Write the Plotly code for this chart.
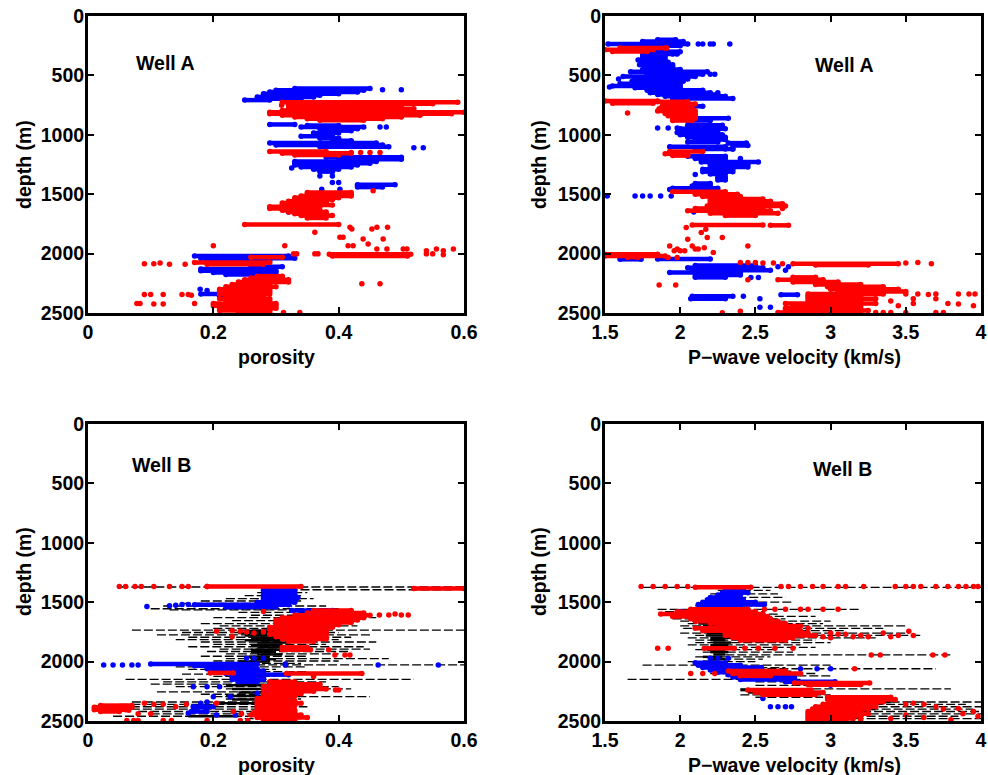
import plotly.graph_objects as go

BLUE = "#0000FF"
RED = "#FF0000"
BLACK = "#000000"

# ---------------- Well A : porosity ----------------
A_phi_blue_d = [610, 625, 640, 655, 668, 682, 696, 708, 913, 922, 935, 950, 965, 985, 1012, 1030, 1050,
                1070, 1085, 1100, 1190, 1205, 1225, 1240, 1255, 1270, 1290, 1310, 1420, 1440,
                2020, 2040, 2055, 2110, 2130, 2145, 2160, 2175, 2340, 2360]
A_phi_blue_lo = [0.33, 0.30, 0.29, 0.28, 0.28, 0.27, 0.28, 0.25, 0.29, 0.35, 0.34, 0.37, 0.38, 0.36, 0.34, 0.37, 0.39,
                 0.29, 0.30, 0.37, 0.38, 0.40, 0.33, 0.33, 0.33, 0.34, 0.36, 0.37, 0.43, 0.43,
                 0.17, 0.18, 0.19, 0.26, 0.18, 0.18, 0.20, 0.22, 0.18, 0.21]
A_phi_blue_hi = [0.45, 0.44, 0.43, 0.40, 0.37, 0.36, 0.34, 0.29, 0.33, 0.40, 0.44, 0.43, 0.42, 0.40, 0.39, 0.40, 0.42,
                 0.46, 0.47, 0.48, 0.50, 0.50, 0.46, 0.45, 0.43, 0.42, 0.40, 0.39, 0.49, 0.47,
                 0.32, 0.33, 0.29, 0.31, 0.29, 0.30, 0.30, 0.29, 0.22, 0.23]
A_phi_blue_dot_d = [620, 620, 935, 935, 1109, 1109, 1280, 1346, 1346, 1402, 1402, 1458, 1458, 1650, 1660, 2300, 2393, 2310]
A_phi_blue_dot_v = [0.47, 0.50, 0.466, 0.476, 0.52, 0.535, 0.325, 0.37, 0.39, 0.39, 0.40, 0.373, 0.402, 0.32, 0.33, 0.179, 0.221, 0.19]

A_phi_red_d = [725, 738, 752, 766, 780, 795, 810, 822, 835, 850, 865, 878, 1140, 1155, 1170,
               1485, 1500, 1515, 1530, 1545, 1560, 1575, 1590, 1605, 1620, 1635, 1650, 1665, 1680, 1700, 1755,
               2005, 2020, 2030, 2075, 2090, 2190, 2205, 2220, 2240, 2260, 2280, 2300, 2320, 2340, 2360,
               2380, 2400, 2420, 2440, 2460, 2480, 2495]
A_phi_red_lo = [0.31, 0.33, 0.32, 0.33, 0.32, 0.31, 0.29, 0.29, 0.31, 0.33, 0.35, 0.37, 0.29, 0.31, 0.33,
                0.35, 0.35, 0.34, 0.33, 0.33, 0.32, 0.31, 0.31, 0.29, 0.29, 0.31, 0.32, 0.33, 0.34, 0.35, 0.25,
                0.385, 0.39, 0.26, 0.17, 0.19, 0.27, 0.26, 0.25, 0.24, 0.23, 0.22, 0.21, 0.21, 0.21, 0.22,
                0.21, 0.22, 0.20, 0.20, 0.21, 0.21, 0.24]
A_phi_red_hi = [0.59, 0.55, 0.47, 0.50, 0.52, 0.50, 0.60, 0.58, 0.53, 0.50, 0.47, 0.44, 0.38, 0.42, 0.40,
                0.42, 0.42, 0.42, 0.40, 0.39, 0.38, 0.38, 0.39, 0.37, 0.36, 0.37, 0.38, 0.38, 0.39, 0.38, 0.40,
                0.515, 0.51, 0.31, 0.29, 0.28, 0.31, 0.31, 0.32, 0.32, 0.29, 0.30, 0.29, 0.29, 0.29, 0.28,
                0.29, 0.29, 0.30, 0.30, 0.30, 0.29, 0.29]
A_phi_red_dot_d = [1779, 1793, 1779, 1793, 1779, 1821, 1863, 1863, 1877, 1877, 1919, 1933, 1933, 1933, 1933,
                   1961, 1961, 1961, 1961, 1975, 1961, 1975, 1961, 2002, 2002, 2002, 2002, 2002, 2002, 2010,
                   1470, 1150, 1150, 1150, 1150, 752, 2085, 2085, 2080, 2090, 2090, 2254, 2254,
                   2345, 2345, 2345, 2345, 2345, 2350, 2420, 2420, 2425, 2425, 2420, 2495, 2495]
A_phi_red_dot_v = [0.418, 0.421, 0.461, 0.453, 0.478, 0.362, 0.402, 0.407, 0.439, 0.471, 0.447, 0.20, 0.314, 0.415, 0.423,
                   0.461, 0.477, 0.503, 0.509, 0.54, 0.556, 0.567, 0.583, 0.328, 0.333, 0.362, 0.367, 0.54, 0.55, 0.567,
                   0.455, 0.42, 0.435, 0.45, 0.466, 0.309, 0.09, 0.105, 0.115, 0.13, 0.155, 0.437, 0.466,
                   0.09, 0.10, 0.12, 0.15, 0.16, 0.165, 0.078, 0.083, 0.105, 0.12, 0.17, 0.312, 0.338]

# ---------------- Well A : P-wave velocity ----------------
A_vp_blue_d = [200, 215, 235, 250, 300, 320, 345, 370, 390, 410, 430, 450, 470, 490, 510, 530, 550, 570, 590, 605,
               625, 645, 660, 675, 695, 760, 860, 880, 920, 950, 980, 1000, 1020, 1040, 1060, 1070, 1090, 1100, 1120,
               1180, 1200, 1230, 1250, 1270, 1290, 1310, 1330, 1360, 1380, 1410, 1430, 1450, 1470,
               2045, 2048, 2100, 2120, 2140, 2160, 2180, 2200, 2346, 2360, 2380]
A_vp_blue_lo = [1.85, 1.75, 1.52, 1.72, 1.80, 1.75, 1.75, 1.72, 1.75, 1.73, 1.78, 1.75, 1.67, 1.78, 1.62, 1.70, 1.68, 1.60, 1.55, 1.70,
                1.78, 1.80, 1.85, 1.90, 1.95, 2.05, 2.09, 2.05, 2.05, 2.00, 1.98, 2.00, 2.05, 2.10, 2.05, 2.32, 2.35, 1.93, 2.10,
                2.05, 2.10, 2.14, 2.20, 2.20, 2.15, 2.15, 2.20, 2.25, 2.25, 2.10, 2.08, 1.95, 1.95,
                1.85, 1.60, 2.10, 2.05, 2.08, 1.93, 2.10, 2.10, 2.67, 2.08, 2.07]
A_vp_blue_hi = [1.97, 2.02, 2.05, 2.00, 2.00, 1.98, 1.90, 1.90, 1.92, 1.95, 1.95, 2.00, 2.18, 2.15, 2.10, 2.05, 2.02, 2.00, 2.00, 2.00,
                2.15, 2.20, 2.25, 2.30, 2.35, 2.15, 2.32, 2.20, 2.28, 2.30, 2.25, 2.28, 2.30, 2.30, 2.25, 2.44, 2.45, 2.30, 2.35,
                2.30, 2.30, 2.52, 2.45, 2.45, 2.35, 2.35, 2.30, 2.30, 2.30, 2.20, 2.20, 2.25, 2.08,
                2.20, 1.74, 2.50, 2.55, 2.60, 2.40, 2.40, 2.30, 2.78, 2.35, 2.30]
A_vp_blue_dot_d = [235, 235, 235, 235, 235, 320, 490, 490, 531, 598, 645, 942, 942, 942, 1120, 1120, 1200, 1335,
                   1515, 1515, 1515, 1515, 1515, 1515, 1460, 1460, 1650, 2201, 2201, 2140, 2360, 2380, 2452, 2452, 2110, 2110]
A_vp_blue_dot_v = [2.12, 2.15, 2.20, 2.22, 2.33, 1.95, 2.23, 2.20, 1.59, 1.53, 2.25, 1.85, 1.92, 1.98, 2.30, 2.35, 2.40, 2.10,
                   1.515, 1.70, 1.75, 1.80, 1.87, 1.94, 1.93, 1.96, 2.09, 2.47, 2.52, 2.70, 2.42, 2.53, 2.53, 2.60, 2.65, 2.72]

A_vp_red_d = [270, 285, 298, 715, 735, 722, 740, 760, 780, 800, 820, 840, 860, 880, 1140, 1160, 1175,
              1480, 1500, 1520, 1540, 1560, 1580, 1600, 1620, 1640, 1660, 1680, 1760, 1762,
              2005, 2020, 2030, 2085, 2095, 2200, 2220, 2240, 2260, 2280, 2300, 2320, 2340, 2360, 2380,
              2400, 2420, 2440, 2460, 2480, 2495]
A_vp_red_lo = [1.60, 1.50, 1.55, 1.50, 1.55, 1.85, 1.90, 1.88, 1.86, 1.85, 1.90, 1.92, 1.95, 1.95, 1.93, 1.90, 1.95,
               1.95, 2.10, 2.15, 2.20, 2.20, 2.20, 2.18, 2.10, 2.05, 2.20, 2.30, 2.08, 2.60,
               1.50, 1.50, 1.65, 2.75, 2.90, 2.75, 2.65, 2.75, 2.90, 2.98, 3.00, 3.05, 2.85, 2.85, 2.85,
               2.85, 2.70, 2.75, 2.70, 2.70, 2.65]
A_vp_red_hi = [1.91, 1.82, 1.78, 1.85, 1.82, 2.05, 2.10, 2.05, 2.08, 2.10, 2.10, 2.10, 2.10, 2.08, 2.15, 2.05, 2.05,
               2.30, 2.38, 2.40, 2.55, 2.60, 2.68, 2.70, 2.55, 2.60, 2.65, 2.50, 2.55, 2.72,
               1.85, 1.90, 1.72, 3.45, 3.25, 2.90, 2.95, 3.05, 3.20, 3.35, 3.45, 3.50, 3.35, 3.20, 3.30,
               3.20, 3.30, 3.20, 3.20, 3.25, 3.20]
A_vp_red_dot_d = [270, 816, 1620, 1781, 1795, 1823, 1865, 1865, 1879, 1935, 1961, 1935, 1950, 1961, 1961, 1935, 1977, 1977, 1977,
                  1990, 2033, 2033, 2075, 2075, 2075, 2080, 2080, 2085, 2080, 2075, 2085, 2220, 2265, 2265,
                  2340, 2340, 2345, 2340, 2340, 2340, 2340, 2380, 2380, 2400, 2420, 2420, 2425, 2440, 2440,
                  2495, 2495, 2495, 2495, 2495, 2495, 2485, 2498]
A_vp_red_dot_v = [1.90, 1.65, 2.68, 2.04, 2.17, 2.14, 2.18, 2.28, 2.05, 1.93, 1.98, 2.08, 2.16, 2.10, 2.12, 2.45, 1.96, 2.00, 2.03,
                  2.22, 1.92, 1.98, 2.40, 2.45, 2.50, 2.55, 2.62, 2.68, 3.50, 3.58, 3.67, 2.45, 1.86, 1.97,
                  3.50, 3.58, 3.65, 3.70, 3.85, 3.92, 3.96, 3.55, 3.70, 3.40, 3.55, 3.78, 3.85, 3.45, 3.95,
                  3.30, 3.35, 3.40, 3.50, 3.70, 3.75, 2.40, 2.28]

# ---------------- Well B : porosity ----------------
B_phi_blk_d = [1372, 1395, 1420, 1445, 1470, 1490, 1510, 1532, 1555, 1565, 1585, 1610, 1630, 1655, 1680, 1700, 1720,
               1735, 1755, 1775, 1795, 1815, 1835, 1855, 1875, 1895, 1915, 1935, 1955, 1975, 1995, 2015, 2028,
               2045, 2065, 2085, 2105, 2125, 2150, 2170, 2190, 2210, 2230, 2255, 2275, 2295, 2315, 2340, 2360,
               2380, 2400, 2420, 2440, 2460, 2480]
B_phi_blk_lo = [0.05, 0.32, 0.27, 0.25, 0.22, 0.18, 0.15, 0.12, 0.10, 0.13, 0.24, 0.26, 0.20, 0.23, 0.18, 0.21, 0.20,
                0.07, 0.15, 0.11, 0.16, 0.14, 0.18, 0.20, 0.16, 0.21, 0.19, 0.22, 0.18, 0.22, 0.20, 0.22, 0.23,
                0.14, 0.16, 0.20, 0.15, 0.20, 0.06, 0.12, 0.10, 0.14, 0.22, 0.11, 0.18, 0.20, 0.22, 0.07, 0.05,
                0.03, 0.03, 0.08, 0.10, 0.04, 0.25]
B_phi_blk_hi = [0.60, 0.58, 0.35, 0.34, 0.36, 0.34, 0.30, 0.38, 0.40, 0.38, 0.44, 0.42, 0.46, 0.42, 0.40, 0.43, 0.38,
                0.60, 0.40, 0.45, 0.42, 0.40, 0.46, 0.38, 0.44, 0.45, 0.42, 0.40, 0.35, 0.48, 0.40, 0.34, 0.60,
                0.35, 0.30, 0.35, 0.33, 0.30, 0.52, 0.38, 0.36, 0.40, 0.42, 0.36, 0.30, 0.45, 0.34, 0.34, 0.30,
                0.35, 0.32, 0.30, 0.30, 0.28, 0.34]
B_phi_core_d = [1740, 1760, 1780, 1800, 1820, 1840, 1860, 1880, 1900, 1920, 1940, 1960, 1980, 2000,
                2200, 2230, 2260, 2290, 2320, 2350, 2460]
B_phi_core_lo = [0.25, 0.24, 0.25, 0.26, 0.25, 0.27, 0.26, 0.27, 0.26, 0.26, 0.27, 0.25, 0.26, 0.24,
                 0.22, 0.23, 0.24, 0.22, 0.23, 0.20, 0.16]
B_phi_core_hi = [0.33, 0.32, 0.31, 0.32, 0.31, 0.32, 0.31, 0.31, 0.32, 0.30, 0.31, 0.29, 0.30, 0.29,
                 0.28, 0.29, 0.30, 0.28, 0.29, 0.27, 0.24]

B_phi_blue_d = [1400, 1420, 1440, 1460, 1480, 1500, 1522, 1540, 1570, 1590,
                2020, 2035, 2060, 2080, 2100, 2110, 2130, 2150, 2170, 2380, 2420]
B_phi_blue_lo = [0.28, 0.285, 0.28, 0.28, 0.28, 0.27, 0.17, 0.22, 0.325, 0.36,
                 0.10, 0.17, 0.19, 0.22, 0.22, 0.275, 0.23, 0.23, 0.24, 0.168, 0.165]
B_phi_blue_hi = [0.33, 0.33, 0.33, 0.335, 0.33, 0.33, 0.32, 0.30, 0.39, 0.39,
                 0.27, 0.26, 0.27, 0.28, 0.28, 0.32, 0.28, 0.28, 0.27, 0.20, 0.19]
B_phi_blue_dot_d = [1536, 1530, 1525, 1520, 1520, 1635, 1972, 1972, 1972, 2028, 2028, 2028, 2028, 2028, 2020, 2028,
                    2028, 2028, 2211, 2211, 2211, 2267, 2267, 2267, 2295, 2295, 2435, 2450, 2450, 2350, 2340]
B_phi_blue_dot_v = [0.094, 0.13, 0.14, 0.15, 0.16, 0.41, 0.253, 0.265, 0.28, 0.025, 0.04, 0.055, 0.07, 0.08, 0.315, 0.315,
                    0.463, 0.559, 0.168, 0.19, 0.21, 0.27, 0.285, 0.30, 0.20, 0.227, 0.16, 0.205, 0.235, 0.18, 0.19]

B_phi_red_d = [1368, 1385, 1570, 1590, 1610, 1630, 1650, 1670, 1690, 1710, 1730, 1750, 1770, 1790, 1810, 1830, 1880, 1900,
               2100, 2095, 2170, 2190, 2210, 2230, 2250, 2270, 2290, 2310, 2330, 2350, 2370, 2390, 2410, 2430,
               2450, 2470, 2490, 2385, 2405, 2370, 2420]
B_phi_red_lo = [0.19, 0.52, 0.36, 0.35, 0.33, 0.31, 0.30, 0.30, 0.30, 0.29, 0.29, 0.30, 0.29, 0.30, 0.31, 0.32, 0.31, 0.31,
                0.317, 0.195, 0.29, 0.29, 0.28, 0.28, 0.29, 0.28, 0.28, 0.27, 0.27, 0.27, 0.27, 0.27, 0.27, 0.27,
                0.26, 0.27, 0.28, 0.01, 0.01, 0.02, 0.02]
B_phi_red_hi = [0.34, 0.60, 0.42, 0.44, 0.45, 0.44, 0.43, 0.42, 0.40, 0.39, 0.38, 0.38, 0.38, 0.37, 0.38, 0.36, 0.35, 0.355,
                0.437, 0.232, 0.33, 0.37, 0.37, 0.38, 0.36, 0.34, 0.33, 0.32, 0.33, 0.34, 0.33, 0.32, 0.33, 0.33,
                0.34, 0.35, 0.33, 0.07, 0.06, 0.07, 0.05]
B_phi_red_dot_d = [1368, 1368, 1368, 1368, 1368, 1368, 1368, 1368, 1368, 1579, 1607, 1607, 1600, 1607, 1607,
                   1745, 1740, 1745, 1750, 1748, 1760, 1790, 1900, 1944, 1944, 1944, 1800, 2125, 2240, 2240,
                   2350, 2360, 2360, 2380, 2360, 2350, 2420, 2440, 2430, 2495, 2495, 2495, 2495, 2495, 2495, 2495, 2495,
                   2410, 2440, 2440]
B_phi_red_dot_v = [0.05, 0.06, 0.075, 0.085, 0.105, 0.13, 0.15, 0.16, 0.19, 0.28, 0.465, 0.48, 0.49, 0.50, 0.511,
                   0.205, 0.23, 0.243, 0.253, 0.28, 0.265, 0.23, 0.384, 0.394, 0.41, 0.418, 0.38, 0.36, 0.40, 0.395,
                   0.09, 0.105, 0.12, 0.14, 0.157, 0.205, 0.232, 0.245, 0.264, 0.062, 0.073, 0.08, 0.12, 0.133, 0.19, 0.243, 0.255,
                   0.065, 0.08, 0.10]

# ---------------- Well B : P-wave velocity ----------------
B_vp_blk_d = [1375, 1400, 1430, 1460, 1500, 1530, 1560, 1580, 1600, 1620, 1640, 1660, 1680, 1700, 1720, 1740, 1760,
              1780, 1800, 1820, 1840, 1860, 1880, 1900, 1920, 1944, 1960, 1980, 2000, 2030, 2050, 2060, 2080,
              2100, 2120, 2150, 2170, 2200, 2230, 2250, 2280, 2300, 2340, 2360, 2380, 2400, 2420, 2440, 2460, 2480]
B_vp_blk_lo = [1.75, 2.25, 2.20, 2.30, 2.20, 2.10, 1.85, 1.90, 1.95, 2.15, 1.95, 2.00, 2.05, 2.00, 2.02, 2.15, 2.00,
               2.10, 2.05, 2.10, 2.10, 2.05, 2.15, 2.10, 2.15, 2.30, 2.10, 2.20, 2.05, 1.75, 2.20, 2.50, 2.20,
               2.20, 2.30, 1.65, 2.50, 2.50, 2.40, 2.45, 2.40, 2.50, 3.00, 3.05, 3.00, 3.10, 3.05, 3.10, 3.00, 3.00]
B_vp_blk_hi = [4.00, 2.60, 2.65, 2.70, 2.75, 2.55, 3.20, 2.55, 2.65, 2.90, 2.70, 3.00, 2.95, 3.50, 3.35, 3.10, 3.50,
               3.60, 3.30, 2.90, 3.00, 2.80, 2.90, 2.65, 2.75, 3.80, 2.60, 2.55, 2.50, 3.00, 2.70, 3.70, 2.75,
               2.90, 3.00, 2.80, 3.10, 3.20, 3.80, 2.90, 3.00, 2.95, 4.00, 3.90, 4.00, 3.95, 4.00, 4.00, 3.85, 4.00]
B_vp_core_d = [1680, 1700, 1720, 1740, 1760, 1780, 1800, 1820, 1840, 1860, 1880, 1900, 1920, 1940, 1960, 1980, 2000,
               2240, 2260, 2340, 2400]
B_vp_core_lo = [2.12, 2.15, 2.12, 2.15, 2.18, 2.17, 2.20, 2.20, 2.22, 2.20, 2.22, 2.18, 2.20, 2.22, 2.15, 2.20, 2.15,
                2.40, 2.45, 3.10, 3.10]
B_vp_core_hi = [2.35, 2.30, 2.28, 2.32, 2.35, 2.30, 2.35, 2.30, 2.34, 2.32, 2.36, 2.30, 2.32, 2.30, 2.28, 2.30, 2.25,
                2.55, 2.60, 3.40, 3.30]

B_vp_blue_d = [1400, 1420, 1440, 1460, 1480, 1500, 1520, 1540, 2010, 2030, 2050, 2070, 2090, 2110, 2130, 2150, 2170]
B_vp_blue_lo = [2.30, 2.28, 2.25, 2.20, 2.18, 2.15, 2.12, 2.14, 2.10, 2.12, 2.15, 2.20, 2.25, 2.32, 2.35, 2.40, 2.70]
B_vp_blue_hi = [2.42, 2.45, 2.40, 2.38, 2.42, 2.50, 2.56, 2.40, 2.30, 2.40, 2.54, 2.50, 2.60, 2.70, 2.76, 2.76, 3.03]
B_vp_blue_dot_d = [1579, 1585, 1972, 1972, 1972, 2060, 2060, 2060, 2379, 2379, 2379, 2379, 2310, 2200]
B_vp_blue_dot_v = [2.00, 2.02, 2.20, 2.25, 2.32, 2.80, 2.91, 3.00, 2.60, 2.65, 2.70, 2.74, 2.55, 3.00]

B_vp_red_d = [1375, 1560, 1580, 1600, 1620, 1640, 1660, 1680, 1700, 1720, 1740, 1760, 1780, 1800, 1820, 1888,
              2080, 2100, 2120, 2180, 2195, 2240, 2260, 2280, 2300, 2320, 2340, 2360, 2380, 2400, 2420, 2440,
              2460, 2480, 2495]
B_vp_red_lo = [2.10, 2.07, 1.98, 1.87, 1.95, 2.07, 2.10, 2.20, 2.25, 2.10, 2.15, 2.30, 2.30, 2.35, 2.40, 2.16,
               2.32, 2.35, 2.40, 2.76, 2.85, 2.45, 2.50, 2.55, 2.98, 2.98, 3.00, 2.95, 2.90, 2.88, 2.85, 2.85,
               2.85, 2.85, 2.85]
B_vp_red_hi = [2.47, 2.45, 2.50, 2.55, 2.58, 2.60, 2.65, 2.70, 2.80, 2.76, 2.80, 2.85, 2.90, 2.75, 2.70, 2.36,
               2.70, 2.80, 2.60, 3.26, 3.20, 2.87, 2.95, 2.90, 3.40, 3.43, 3.35, 3.30, 3.30, 3.25, 3.20, 3.25,
               3.20, 3.15, 3.10]
B_vp_red_dot_d = [1368] * 23 + [1560, 1560, 1560, 1560, 1560, 1560, 1560,
                  1720, 1760, 1770, 1770, 1790, 1780, 1790, 1760, 1790, 1780, 1745, 1780, 1790, 1800,
                  1888, 1888, 1888, 1888, 1888, 1888, 1944, 1944, 1944, 1944, 2100, 2100, 2100, 2060,
                  2350, 2360, 2380, 2395, 2420, 2440, 2400, 2450, 2470, 2490, 2460, 2480, 2490, 2360]
B_vp_red_dot_v = [1.74, 1.82, 1.90, 1.98, 2.05, 2.67, 2.72, 2.80, 2.88, 2.95, 3.05, 3.10, 3.22, 3.43, 3.50, 3.55,
                  3.60, 3.70, 3.78, 3.85, 3.90, 3.95, 3.98,
                  2.56, 2.63, 2.70, 2.80, 2.85, 2.95, 3.05,
                  2.85, 3.00, 3.05, 3.10, 3.15, 3.20, 3.25, 3.35, 3.40, 3.45, 3.52, 3.55, 2.95, 3.00,
                  1.85, 1.92, 2.43, 2.52, 2.63, 2.75, 3.27, 3.33, 3.68, 3.76, 2.07, 2.15, 2.23, 3.16,
                  3.55, 3.62, 3.70, 3.85, 3.95, 3.88, 3.75, 3.50, 3.62, 3.80, 3.98, 3.40, 3.20, 3.50]

# ---------------- axes / labels ----------------
depth_ticks = [0, 500, 1000, 1500, 2000, 2500]
phi_ticks = [0, 0.2, 0.4, 0.6]
phi_tick_text = ["0", "0.2", "0.4", "0.6"]
vp_ticks = [1.5, 2, 2.5, 3, 3.5, 4]
vp_tick_text = ["1.5", "2", "2.5", "3", "3.5", "4"]

W, H = 988, 775
FONT = "Liberation Sans, Arial, Helvetica, sans-serif"
FS = 19.5


def segs(d, lo, hi):
    xs, ys = [], []
    for dd, a, b in zip(d, lo, hi):
        xs += [a, b, None]
        ys += [dd, dd, None]
    return xs, ys


fig = go.Figure()


def add_streaks(ax, d, lo, hi, color, width=4.5, dash=None, ends=True):
    xs, ys = segs(d, lo, hi)
    fig.add_trace(go.Scatter(
        x=xs, y=ys, xaxis="x" + ax, yaxis="y" + ax,
        mode="lines+markers" if ends else "lines",
        line=dict(color=color, width=width, dash=dash),
        marker=dict(color=color, size=width + 1),
        connectgaps=False, hoverinfo="skip", showlegend=False))


def add_dots(ax, d, v, color):
    fig.add_trace(go.Scatter(
        x=v, y=d, xaxis="x" + ax, yaxis="y" + ax, mode="markers",
        marker=dict(color=color, size=5.5, line=dict(width=0)),
        hoverinfo="skip", showlegend=False))


# Top-left (axis "" -> x / y)
add_streaks("", A_phi_blue_d, A_phi_blue_lo, A_phi_blue_hi, BLUE)
add_dots("", A_phi_blue_dot_d, A_phi_blue_dot_v, BLUE)
add_streaks("", A_phi_red_d, A_phi_red_lo, A_phi_red_hi, RED)
add_dots("", A_phi_red_dot_d, A_phi_red_dot_v, RED)

# Top-right
add_streaks("2", A_vp_blue_d, A_vp_blue_lo, A_vp_blue_hi, BLUE)
add_dots("2", A_vp_blue_dot_d, A_vp_blue_dot_v, BLUE)
add_streaks("2", A_vp_red_d, A_vp_red_lo, A_vp_red_hi, RED)
add_dots("2", A_vp_red_dot_d, A_vp_red_dot_v, RED)

# Bottom-left
add_streaks("3", B_phi_blk_d, B_phi_blk_lo, B_phi_blk_hi, BLACK, width=1.3, dash="9px,3px", ends=False)
add_streaks("3", B_phi_core_d, B_phi_core_lo, B_phi_core_hi, BLACK, width=2.5, ends=False)
add_streaks("3", B_phi_blue_d, B_phi_blue_lo, B_phi_blue_hi, BLUE)
add_dots("3", B_phi_blue_dot_d, B_phi_blue_dot_v, BLUE)
add_streaks("3", B_phi_red_d, B_phi_red_lo, B_phi_red_hi, RED)
add_dots("3", B_phi_red_dot_d, B_phi_red_dot_v, RED)

# Bottom-right
add_streaks("4", B_vp_blk_d, B_vp_blk_lo, B_vp_blk_hi, BLACK, width=1.3, dash="9px,3px", ends=False)
add_streaks("4", B_vp_core_d, B_vp_core_lo, B_vp_core_hi, BLACK, width=2.5, ends=False)
add_streaks("4", B_vp_blue_d, B_vp_blue_lo, B_vp_blue_hi, BLUE)
add_dots("4", B_vp_blue_dot_d, B_vp_blue_dot_v, BLUE)
add_streaks("4", B_vp_red_d, B_vp_red_lo, B_vp_red_hi, RED)
add_dots("4", B_vp_red_dot_d, B_vp_red_dot_v, RED)

xl = [88 / W, 464 / W]
xr = [605 / W, 981 / W]
yt = [1 - 313 / H, 1 - 16 / H]
yb = [1 - 721 / H, 1 - 424 / H]

tickfont = dict(family=FONT, size=FS, color="black", weight="bold")
common = dict(showgrid=False, zeroline=False, showline=True, linewidth=3, linecolor="black",
              mirror="ticks", ticks="inside", ticklen=6, tickwidth=2, tickcolor="black",
              tickfont=tickfont, automargin=False)


def xax(dom, anchor, rng, vals, text):
    return dict(domain=dom, anchor=anchor, range=rng, tickvals=vals, ticktext=text, **common)


def yax(dom, anchor):
    return dict(domain=dom, anchor=anchor, range=[2500, 0], tickvals=depth_ticks,
                ticklabelstandoff=-3, **common)


fig.update_layout(
    width=W, height=H, autosize=False,
    margin=dict(l=0, r=0, t=0, b=0, pad=0, autoexpand=False),
    paper_bgcolor="white", plot_bgcolor="white", showlegend=False,
    xaxis=xax(xl, "y", [0, 0.6], phi_ticks, phi_tick_text),
    yaxis=yax(yt, "x"),
    xaxis2=xax(xr, "y2", [1.5, 4], vp_ticks, vp_tick_text),
    yaxis2=yax(yt, "x2"),
    xaxis3=xax(xl, "y3", [0, 0.6], phi_ticks, phi_tick_text),
    yaxis3=yax(yb, "x3"),
    xaxis4=xax(xr, "y4", [1.5, 4], vp_ticks, vp_tick_text),
    yaxis4=yax(yb, "x4"),
)

lab = dict(family=FONT, size=FS, color="black", weight="bold")
ann = []
# panel labels
ann.append(dict(text="Well A", x=0.123, y=395, xref="x", yref="y", showarrow=False, font=lab))
ann.append(dict(text="Well A", x=3.09, y=412, xref="x2", yref="y2", showarrow=False, font=lab))
ann.append(dict(text="Well B", x=0.118, y=345, xref="x3", yref="y3", showarrow=False, font=lab))
ann.append(dict(text="Well B", x=3.076, y=379, xref="x4", yref="y4", showarrow=False, font=lab))
# axis titles
for cx, cy, t in [(276, 357, "porosity"), (794, 357, "P\u2212wave velocity (km/s)"),
                  (276, 765, "porosity"), (794, 765, "P\u2212wave velocity (km/s)")]:
    ann.append(dict(text=t, x=cx / W, y=1 - cy / H, xref="paper", yref="paper",
                    showarrow=False, font=lab, xanchor="center", yanchor="middle"))
for cx, cy in [(24, 165), (539, 165), (24, 572), (539, 572)]:
    ann.append(dict(text="depth (m)", x=cx / W, y=1 - cy / H, xref="paper", yref="paper",
                    showarrow=False, font=lab, textangle=-90, xanchor="center", yanchor="middle"))
fig.update_layout(annotations=ann)

fig.write_html(
    "out.html",
    config={"displayModeBar": False, "staticPlot": True},
    post_script="document.body.style.margin='0';document.body.style.padding='0';"
                "document.body.style.overflow='hidden';",
)
